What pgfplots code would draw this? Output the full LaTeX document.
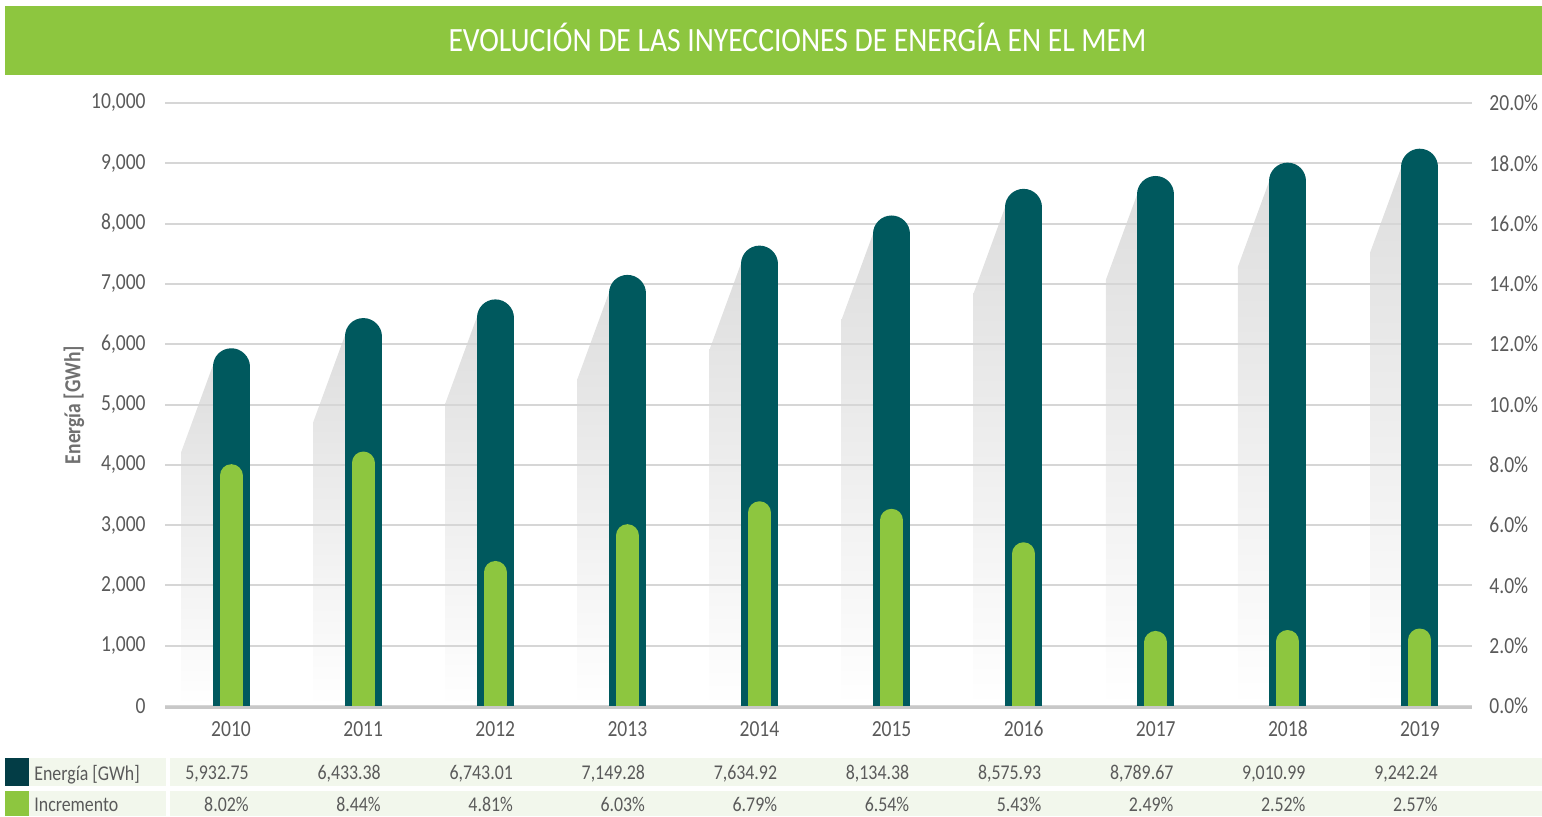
\documentclass[border=0pt]{standalone}
\usepackage{pgfplots}
\usepackage{pgfplotstable}
\pgfplotsset{compat=1.18}
\usepackage{fontspec}
\setmainfont[FakeStretch=0.85]{Carlito}
\newfontfamily\titlefont[FakeStretch=0.87]{Carlito}
\definecolor{barteal}{HTML}{00595E}
\definecolor{bargreen}{HTML}{8DC63F}
\definecolor{swdark}{HTML}{033D46}
\definecolor{gridc}{HTML}{D6D6D6}
\definecolor{axisc}{HTML}{C8C8C8}
\definecolor{txt}{HTML}{5A5A5A}
\definecolor{ylab}{HTML}{707070}
\definecolor{band}{HTML}{F2F7EC}
\definecolor{shadowc}{HTML}{DEDEDE}

\pgfplotstableread{
i E I
0 5932.75 8.02
1 6433.38 8.44
2 6743.01 4.81
3 7149.28 6.03
4 7634.92 6.79
5 8134.38 6.54
6 8575.93 5.43
7 8789.67 2.49
8 9010.99 2.52
9 9242.24 2.57
}\data

\pgfplotsset{
 base/.style={
   scale only axis, width=653.5pt, height=301.5pt,
   at={(82.5pt,55pt)}, anchor=south west,
   xmin=-0.5, xmax=9.394, ymin=0,
   major tick length=0pt,
   axis line style={draw=none},
   tick label style={font=\fontsize{11.5}{13}\selectfont, text=txt},
   /pgf/number format/assume math mode=true,
 },
 shadow/.style={draw=none, top color=shadowc, bottom color=white, forget plot},
}
\tikzset{tbl/.style={anchor=base east, xshift=9pt, font=\fontsize{10.5}{12}\selectfont, text=txt, inner sep=0pt}}

\begin{document}
\begin{tikzpicture}
\useasboundingbox (0,0) rectangle (771pt,408pt);
% title
\fill[bargreen] (2.5pt,370.65pt) rectangle (771pt,405pt);
\node[text=white, font=\titlefont\fontsize{17}{20}\selectfont] at (398.75pt,389.5pt) {EVOLUCIÓN DE LAS INYECCIONES DE ENERGÍA EN EL MEM};
% table bands
\fill[band] (2.5pt,15.15pt) rectangle (82.8pt,29.15pt);
\fill[band] (85pt,15.15pt) rectangle (771pt,29.15pt);
\fill[band] (2.5pt,0pt) rectangle (82.8pt,12.65pt);
\fill[band] (85pt,0pt) rectangle (771pt,12.65pt);
\fill[swdark] (2.5pt,15.15pt) rectangle (14.5pt,29.15pt);
\fill[bargreen] (2.5pt,0pt) rectangle (14.5pt,12.65pt);
\node[anchor=base west, inner sep=0pt, font=\fontsize{10.5}{12}\selectfont, text=txt] at (17pt,18pt) {Energía [GWh]};
\node[anchor=base west, inner sep=0pt, font=\fontsize{10.5}{12}\selectfont, text=txt] at (17pt,2.2pt) {Incremento};
% y label
\node[rotate=90, font=\bfseries\fontsize{11.5}{13}\selectfont, text=ylab] at (37pt,205.5pt) {Energía [GWh]};

% axis 1: shadows, grid, left labels
\begin{axis}[base, ymax=10000, ytick={0,1000,...,10000},
  scaled y ticks=false,
  xtick={0,...,9}, xticklabels={2010,2011,2012,2013,2014,2015,2016,2017,2018,2019},
  ymajorgrids, grid style={gridc, line width=1pt}, axis on top,
  yticklabel style={anchor=east, inner sep=0pt, xshift=-9.5pt,
     /pgf/number format/.cd, 1000 sep={,}, fixed, precision=0},
  xticklabel style={anchor=base, inner sep=0pt, yshift=-15.3pt}]
\addplot[shadow] coordinates {(-0.378,0) (-0.378,4208) (-0.14,5633) (0,5633) (0,0)} -- cycle;
\addplot[shadow] coordinates {(0.622,0) (0.622,4708) (0.86,6133) (1,6133) (1,0)} -- cycle;
\addplot[shadow] coordinates {(1.622,0) (1.622,5018) (1.86,6443) (2,6443) (2,0)} -- cycle;
\addplot[shadow] coordinates {(2.622,0) (2.622,5424) (2.86,6849) (3,6849) (3,0)} -- cycle;
\addplot[shadow] coordinates {(3.622,0) (3.622,5910) (3.86,7335) (4,7335) (4,0)} -- cycle;
\addplot[shadow] coordinates {(4.622,0) (4.622,6409) (4.86,7834) (5,7834) (5,0)} -- cycle;
\addplot[shadow] coordinates {(5.622,0) (5.622,6851) (5.86,8276) (6,8276) (6,0)} -- cycle;
\addplot[shadow] coordinates {(6.622,0) (6.622,7065) (6.86,8490) (7,8490) (7,0)} -- cycle;
\addplot[shadow] coordinates {(7.622,0) (7.622,7286) (7.86,8711) (8,8711) (8,0)} -- cycle;
\addplot[shadow] coordinates {(8.622,0) (8.622,7517) (8.86,8942) (9,8942) (9,0)} -- cycle;
\end{axis}

% axis 2: energy bars
\begin{axis}[base, ymax=10000, hide axis]
\addplot[ycomb, draw=barteal, line width=18.5pt, line cap=round, mark=none]
  table[x=i, y expr=\thisrow{E}-306.8] {\data};
\end{axis}

% axis 3: increment bars, right axis, table values
\begin{axis}[base, ymax=20, ytick={0,2,...,20}, xtick=\empty,
  axis y line*=right, axis x line=none, clip mode=individual,
  yticklabel={\pgfmathprintnumber[fixed,fixed zerofill,precision=1]{\tick}\%},
  yticklabel style={anchor=west, inner sep=0pt, xshift=8.5pt}]
\addplot[ycomb, draw=bargreen, line width=11.5pt, line cap=round, mark=none]
  table[x=i, y expr=\thisrow{I}-0.381] {\data};
\draw[axisc, line width=1.5pt] (axis cs:-0.5,-0.05) -- (axis cs:9.394,-0.05);
\node[tbl] at (axis cs:0,-2.454) {5,932.75};
\node[tbl] at (axis cs:1,-2.454) {6,433.38};
\node[tbl] at (axis cs:2,-2.454) {6,743.01};
\node[tbl] at (axis cs:3,-2.454) {7,149.28};
\node[tbl] at (axis cs:4,-2.454) {7,634.92};
\node[tbl] at (axis cs:5,-2.454) {8,134.38};
\node[tbl] at (axis cs:6,-2.454) {8,575.93};
\node[tbl] at (axis cs:7,-2.454) {8,789.67};
\node[tbl] at (axis cs:8,-2.454) {9,010.99};
\node[tbl] at (axis cs:9,-2.454) {9,242.24};
\node[tbl] at (axis cs:0,-3.502) {8.02\%};
\node[tbl] at (axis cs:1,-3.502) {8.44\%};
\node[tbl] at (axis cs:2,-3.502) {4.81\%};
\node[tbl] at (axis cs:3,-3.502) {6.03\%};
\node[tbl] at (axis cs:4,-3.502) {6.79\%};
\node[tbl] at (axis cs:5,-3.502) {6.54\%};
\node[tbl] at (axis cs:6,-3.502) {5.43\%};
\node[tbl] at (axis cs:7,-3.502) {2.49\%};
\node[tbl] at (axis cs:8,-3.502) {2.52\%};
\node[tbl] at (axis cs:9,-3.502) {2.57\%};
\end{axis}
\end{tikzpicture}
\end{document}
